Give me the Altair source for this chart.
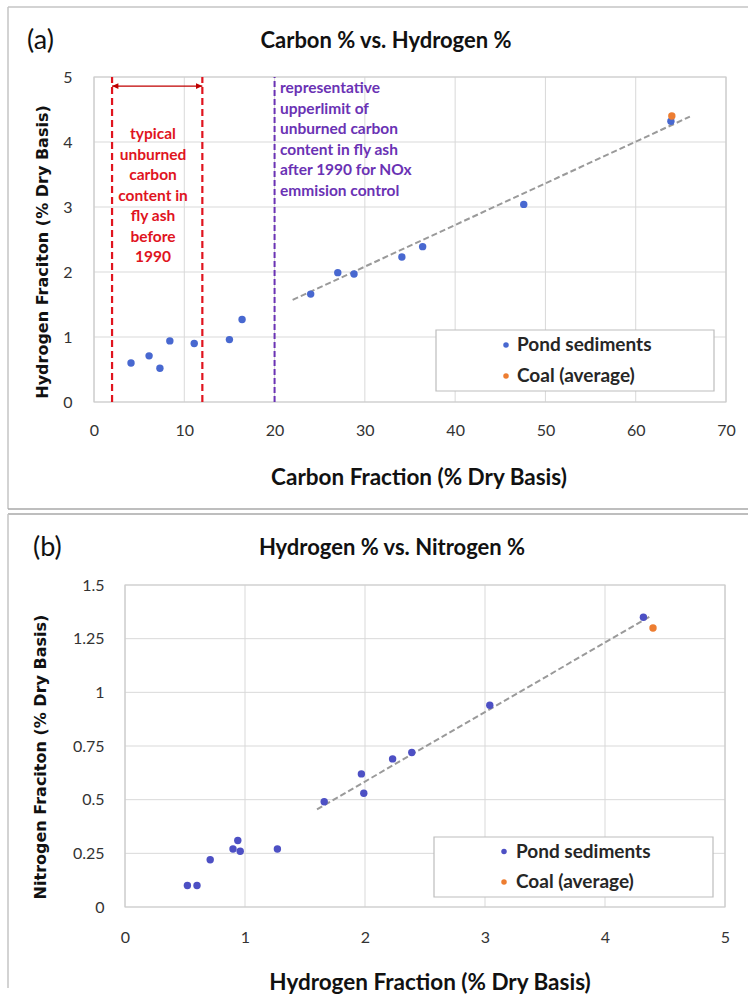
import altair as alt
import pandas as pd

# ---- pond sediment samples (% dry basis) ----
carbon = [4.1, 6.1, 7.3, 8.4, 11.1, 15.0, 16.4, 24.0, 27.0, 28.8, 34.1, 36.4, 47.6, 63.9]
hydrogen = [0.60, 0.71, 0.52, 0.94, 0.90, 0.96, 1.27, 1.66, 1.99, 1.97, 2.23, 2.39, 3.04, 4.32]
nitrogen = [0.10, 0.22, 0.10, 0.31, 0.27, 0.26, 0.27, 0.49, 0.53, 0.62, 0.69, 0.72, 0.94, 1.35]

# ---- average coal ----
coal_carbon = [64.0]
coal_hydrogen = [4.40]
coal_nitrogen = [1.30]

# ---- linear trend lines (end points) ----
trend_a_carbon = [22.0, 66.0]
trend_a_hydrogen = [1.57, 4.39]
trend_b_hydrogen = [1.60, 4.38]
trend_b_nitrogen = [0.455, 1.355]

# ---- unburned carbon reference levels ----
pre1990_range = [2, 12]
post1990_limit = [20]
arrow_level = [4.86]

# ---- axis ticks ----
ticks_a_x = [0, 10, 20, 30, 40, 50, 60, 70]
ticks_a_y = [0, 1, 2, 3, 4, 5]
ticks_b_x = [0, 1, 2, 3, 4, 5]
ticks_b_y = [0, 0.25, 0.5, 0.75, 1, 1.25, 1.5]

pre1990_note = ["typical", "unburned", "carbon", "content in", "fly ash", "before", "1990"]
post1990_note = ["representative", "upperlimit of", "unburned carbon",
                 "content in fly ash", "after 1990 for NOx", "emmision control"]
series_names = ["Pond sediments", "Coal (average)"]

W, H = 748, 998

BLUE_A = "#4868d0"
BLUE_B = "#4d50c4"
ORANGE = "#ed7d31"
RED = "#e0141e"
DARK_RED = "#c00000"
PURPLE = "#6a32b4"
GRID = "#d9d9d9"
FRAME = "#c4c4c4"
TREND = "#9a9a9a"
FONT = "Lato"
WIDE_FONT = "DejaVu Sans"

pond = pd.DataFrame({"C": carbon, "H": hydrogen, "N": nitrogen})
coal = pd.DataFrame({"C": coal_carbon, "H": coal_hydrogen, "N": coal_nitrogen})
single = pd.DataFrame({"k": [0]})


def make_axis(values, orient, offset, pad):
    return alt.Axis(values=values, orient=orient, offset=offset, title=None, grid=False,
                    ticks=False, domain=False, labelFont=FONT, labelFontSize=16,
                    labelColor="#333333", labelPadding=pad, labelFlush=False,
                    labelOverlap=False, labelExpr="datum.value + ''")


def text_at(x, y, text, size, color="#111111", font=FONT, align="center",
            angle=0, weight="bold", line_height=None):
    props = dict(text=text, fontSize=size, font=font, color=color, align=align,
                 baseline="middle", fontWeight=weight)
    if angle:
        props["angle"] = angle
    if line_height:
        props["lineHeight"] = line_height
    return alt.Chart(single).mark_text(**props).encode(x=alt.value(x), y=alt.value(y))


def hline(x0, x1, y, color):
    return alt.Chart(single).mark_rule(color=color, strokeWidth=1.5).encode(
        x=alt.value(x0), x2=alt.value(x1), y=alt.value(y))


def vline(x, y0, y1, color):
    return alt.Chart(single).mark_rule(color=color, strokeWidth=1.5).encode(
        x=alt.value(x), y=alt.value(y0), y2=alt.value(y1))


def legend(x0, y0, w, h, mx, tx, row1, row2, blue):
    return [
        alt.Chart(single).mark_rect(fill="white", stroke="#bdbdbd", strokeWidth=1.2).encode(
            x=alt.value(x0), x2=alt.value(x0 + w), y=alt.value(y0), y2=alt.value(y0 + h)),
        alt.Chart(single).mark_circle(size=30, color=blue, opacity=1).encode(
            x=alt.value(mx), y=alt.value(row1)),
        alt.Chart(single).mark_circle(size=30, color=ORANGE, opacity=1).encode(
            x=alt.value(mx), y=alt.value(row2)),
        text_at(tx, row1, series_names[0], 19, color="#262626", align="left"),
        text_at(tx, row2, series_names[1], 19, color="#262626", align="left"),
    ]


def panel(xs, ys, ax, ay, xf, yf, xt, yt, trend, blue):
    """Scatter panel: grid, border, trend line, samples and coal average."""
    X = lambda f: alt.X(f, scale=xs, axis=ax)
    Y = lambda f: alt.Y(f, scale=ys, axis=ay)
    x_lo, x_hi = xs.domain
    y_lo, y_hi = ys.domain
    vgrid = alt.Chart(pd.DataFrame({"v": xt})).mark_rule(color=GRID, strokeWidth=1).encode(
        x=X("v:Q"), y=alt.Y(datum=y_lo, scale=ys, axis=ay), y2=alt.Y2(datum=y_hi))
    hgrid = alt.Chart(pd.DataFrame({"v": yt})).mark_rule(color=GRID, strokeWidth=1).encode(
        y=Y("v:Q"), x=alt.X(datum=x_lo, scale=xs, axis=ax), x2=alt.X2(datum=x_hi))
    border = alt.Chart(single).mark_rect(fill=None, stroke="#cccccc", strokeWidth=1.2).encode(
        x=alt.X(datum=x_lo, scale=xs, axis=ax), x2=alt.X2(datum=x_hi),
        y=alt.Y(datum=y_lo, scale=ys, axis=ay), y2=alt.Y2(datum=y_hi))
    line = alt.Chart(trend).mark_line(color=TREND, strokeDash=[6, 3], strokeWidth=2).encode(
        x=X(xf + ":Q"), y=Y(yf + ":Q"))
    dots = alt.Chart(pond).mark_circle(size=55, color=blue, opacity=1).encode(
        x=X(xf + ":Q"), y=Y(yf + ":Q"))
    avg = alt.Chart(coal).mark_circle(size=55, color=ORANGE, opacity=1).encode(
        x=X(xf + ":Q"), y=Y(yf + ":Q"))
    return vgrid, hgrid, border, line, dots, avg, X, Y


# ================= panel (a): carbon vs hydrogen =================
xa = alt.Scale(domain=[0, 70], range=[94, 726], nice=False, zero=False)
ya = alt.Scale(domain=[0, 5], range=[402, 77], nice=False, zero=False)
ax_a = make_axis(ticks_a_x, "bottom", -(H - 402), 20)
ay_a = make_axis(ticks_a_y, "left", -94, 22)

va, ha, ba, la, da, ca, XA, YA = panel(
    xa, ya, ax_a, ay_a, "C", "H", ticks_a_x, ticks_a_y,
    pd.DataFrame({"C": trend_a_carbon, "H": trend_a_hydrogen}), BLUE_A)

pre_lines = alt.Chart(pd.DataFrame({"C": pre1990_range})).mark_rule(
    color=RED, strokeDash=[7, 4], strokeWidth=2.2).encode(
    x=XA("C:Q"), y=alt.Y(datum=0, scale=ya, axis=ay_a), y2=alt.Y2(datum=5))
post_line = alt.Chart(pd.DataFrame({"C": post1990_limit})).mark_rule(
    color=PURPLE, strokeDash=[6, 3], strokeWidth=2).encode(
    x=XA("C:Q"), y=alt.Y(datum=0, scale=ya, axis=ay_a), y2=alt.Y2(datum=5))

arrow_df = pd.DataFrame({"C": [pre1990_range[0]], "C2": [pre1990_range[1]], "H": arrow_level})
arrow_shaft = alt.Chart(arrow_df).mark_rule(color=DARK_RED, strokeWidth=1.2).encode(
    x=XA("C:Q"), x2="C2:Q", y=YA("H:Q"))
head_left = alt.Chart(arrow_df).mark_point(
    shape="M0,0 L2,-0.9 L2,0.9 Z", filled=True, size=40, color=DARK_RED, opacity=1).encode(
    x=XA("C:Q"), y=YA("H:Q"))
head_right = alt.Chart(arrow_df).mark_point(
    shape="M0,0 L-2,-0.9 L-2,0.9 Z", filled=True, size=40, color=DARK_RED, opacity=1).encode(
    x=XA("C2:Q"), y=YA("H:Q"))

layer_a = alt.layer(
    va, ha, ba, pre_lines, post_line, arrow_shaft, head_left, head_right, la, da, ca,
    text_at(153, 134, pre1990_note, 15.5, color=RED, line_height=20.5),
    text_at(280, 88, post1990_note, 15.5, color=PURPLE, align="left", line_height=20.6),
    *legend(436, 330, 278, 61, 506, 517, 345, 376, BLUE_A),
    # panel frame
    hline(8, W, 7, FRAME), vline(8, 7, 509, FRAME), hline(8, W, 509, "#a8a8a8"),
    text_at(27, 41, "(a)", 27, weight="normal", align="left"),
    text_at(386, 40.5, "Carbon % vs. Hydrogen %", 22),
    text_at(419, 478, "Carbon Fraction (% Dry Basis)", 22.5),
    text_at(43, 252, "Hydrogen Fraciton  (% Dry Basis)", 16, font=WIDE_FONT, angle=270),
)

# ================= panel (b): hydrogen vs nitrogen =================
xb = alt.Scale(domain=[0, 5], range=[125, 725], nice=False, zero=False)
yb = alt.Scale(domain=[0, 1.5], range=[907, 585], nice=False, zero=False)
ax_b = make_axis(ticks_b_x, "bottom", -(H - 907), 22)
ay_b = make_axis(ticks_b_y, "left", -125, 21)

vb, hb, bb, lb, db, cb, XB, YB = panel(
    xb, yb, ax_b, ay_b, "H", "N", ticks_b_x, ticks_b_y,
    pd.DataFrame({"H": trend_b_hydrogen, "N": trend_b_nitrogen}), BLUE_B)

layer_b = alt.layer(
    vb, hb, bb, lb, db, cb,
    *legend(434, 837, 279, 60, 504, 516, 851.5, 882, BLUE_B),
    hline(8, W, 514, "#a8a8a8"), vline(8, 514, 988, FRAME),
    text_at(33, 548, "(b)", 27, weight="normal", align="left"),
    text_at(392, 548, "Hydrogen % vs. Nitrogen %", 22),
    text_at(430, 983, "Hydrogen Fraction (% Dry Basis)", 22.5),
    text_at(40.5, 757, "Nitrogen Fraciton  (% Dry Basis)", 16, font=WIDE_FONT, angle=270),
)

chart = alt.layer(layer_a, layer_b).resolve_scale(
    x="independent", y="independent"
).properties(
    width=W, height=H, padding=0, background="white",
    autosize=alt.AutoSizeParams(type="none"),
).configure_view(stroke=None)

chart.save("out.html", embed_options={"renderer": "svg", "actions": False})
